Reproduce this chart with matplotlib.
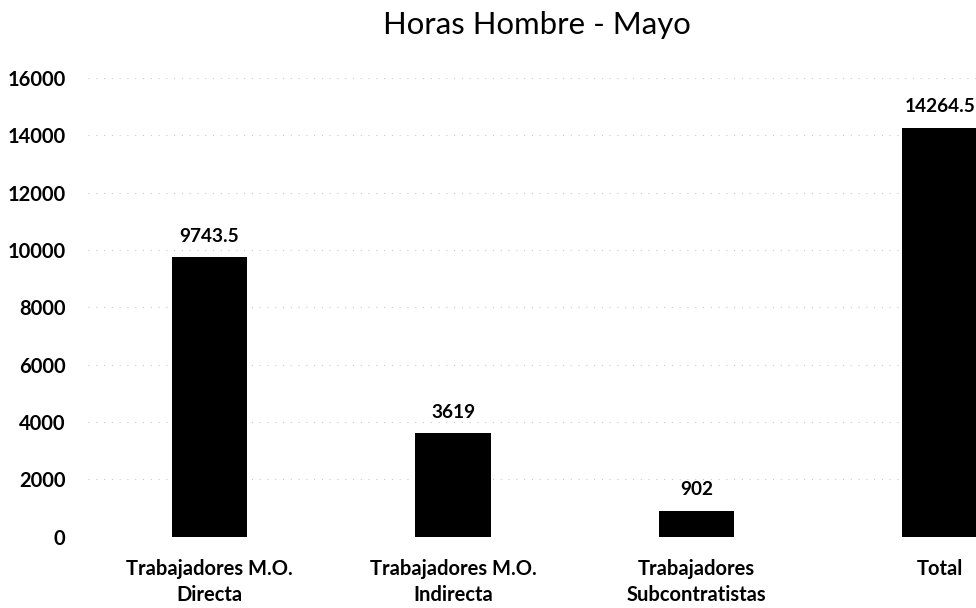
import matplotlib.pyplot as plt

categorias = ["Trabajadores M.O.\nDirecta", "Trabajadores M.O.\nIndirecta",
              "Trabajadores\nSubcontratistas", "Total"]
horas = [9743.5, 3619, 902, 14264.5]
etiquetas = ["9743.5", "3619", "902", "14264.5"]
yticks = [0, 2000, 4000, 6000, 8000, 10000, 12000, 14000, 16000]

plt.rcParams['font.family'] = ['Lato', 'DejaVu Sans']

fig = plt.figure(figsize=(9.76, 6.08), dpi=100)
ax = fig.add_axes([0.090, 0.117, 0.91, 0.755])

x = list(range(len(categorias)))
barras = ax.bar(x, horas, width=0.31, color='black', zorder=3)

for b, txt in zip(barras, etiquetas):
    ax.annotate(txt, (b.get_x() + b.get_width() / 2, b.get_height()),
                xytext=(0, 9), textcoords='offset points',
                ha='center', va='bottom', fontsize=13.7, fontweight='bold')

ax.set_xlim(-0.5, 3.148)
ax.set_ylim(0, 16000)
ax.set_yticks(yticks)
ax.set_yticklabels([str(v) for v in yticks], fontsize=14.5, fontweight='bold')
ax.set_xticks(x)
ax.set_xticklabels(categorias, fontsize=14.5, fontweight='bold', linespacing=1.35)
ax.tick_params(axis='both', length=0)
ax.tick_params(axis='y', pad=16)
ax.tick_params(axis='x', pad=16)
for s in ax.spines.values():
    s.set_visible(False)
ax.grid(axis='y', color='#c8c8c8', linestyle=(0, (1, 6)), linewidth=0.8, zorder=0)

fig.text(0.550, 0.944, "Horas Hombre - Mayo", ha='center', va='baseline', fontsize=22.4)

fig.savefig("out.png", dpi=100)
